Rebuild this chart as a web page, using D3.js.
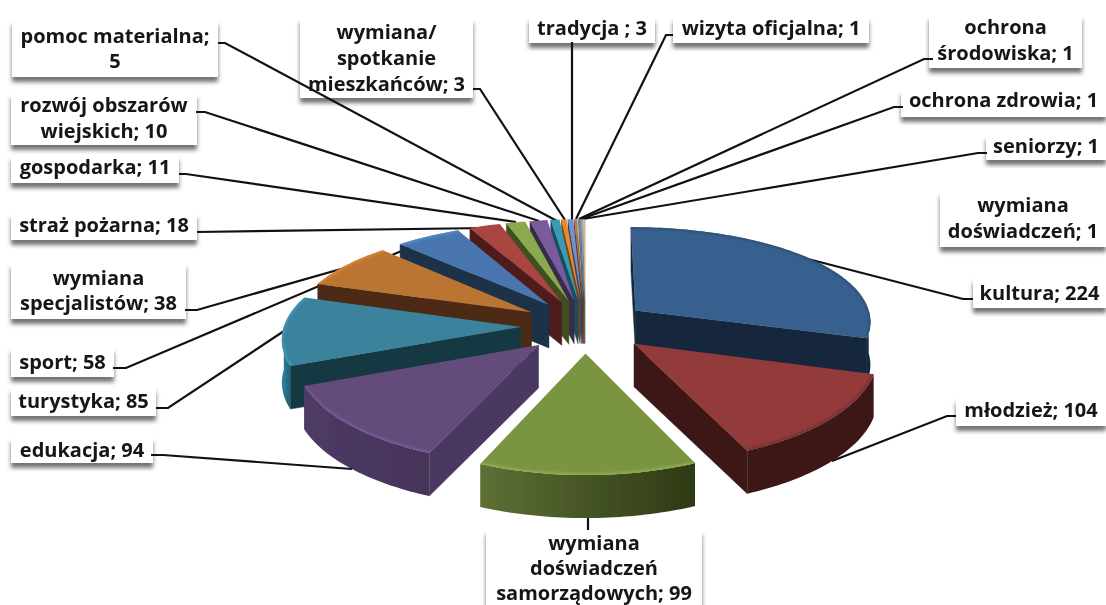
<!DOCTYPE html>
<html>
<head>
<meta charset="utf-8">
<script src="https://cdnjs.cloudflare.com/ajax/libs/d3/7.8.5/d3.min.js"></script>
<style>
    html, body { margin: 0; padding: 0; background: #fff; }
    text { font-family: "Open Sans", sans-serif; font-weight: 700; font-size: 20px; fill: #141414; }
</style>
</head>
<body>
<div id="chart"></div>
<script>
const categories = [
    "kultura", "młodzież", "wymiana doświadczeń samorządowych", "edukacja", "turystyka", "sport",
    "wymiana specjalistów", "straż pożarna", "gospodarka", "rozwój obszarów wiejskich",
    "pomoc materialna", "wymiana/ spotkanie mieszkańców", "tradycja ", "wizyta oficjalna",
    "ochrona środowiska", "ochrona zdrowia", "seniorzy", "wymiana doświadczeń"
];
const values = [224, 104, 99, 94, 85, 58, 38, 18, 11, 10, 5, 3, 3, 1, 1, 1, 1, 1];

const topColors = [
    "#38618f", "#933a3a", "#7a9442", "#634c7c", "#3a829c", "#bb7432",
    "#4876ae", "#aa4442", "#8aaa4e", "#7a5b9c", "#3a9ab4", "#e58a2e",
    "#6f92c8", "#c96a68", "#a3bd6c", "#8d74a8", "#5fb0c8", "#f4b183"
];
const wallColors = [
    "#18283c", "#3e1815", "#3f4d1c", "#4a3860", "#163843", "#4e2c12",
    "#1b3048", "#4f1c1b", "#414f20", "#382a4a", "#17505f", "#7a4512",
    "#2c4670", "#60302f", "#55652f", "#44345a", "#2a6070", "#8a6040"
];
const rimLeft = [
    "#18283c", "#3e1815", "#5d7035", "#4e3b65", "#2f88a4", "#4e2c12",
    "#1b3048", "#4f1c1b", "#414f20", "#382a4a", "#17505f", "#7a4512",
    "#2c4670", "#60302f", "#55652f", "#44345a", "#2a6070", "#8a6040"
];
const rimRight = [
    "#18283c", "#3e1815", "#2e3915", "#463459", "#1f5f73", "#4e2c12",
    "#1b3048", "#4f1c1b", "#414f20", "#382a4a", "#17505f", "#7a4512",
    "#2c4670", "#60302f", "#55652f", "#44345a", "#2a6070", "#8a6040"
];

// Words per line of each label
const labelWraps = [
    [3], [2], [1, 1, 2], [2], [2], [2],
    [1, 2], [3], [2], [2, 2],
    [2, 1], [1, 1, 2], [3], [3],
    [1, 2], [3], [2], [1, 2]
];

// Label boxes: x, y, width, height, first baseline, line step, leader points
const labelLayout = [
    { box: [973, 278, 133, 30], base: 300, step: 0, line: [[973, 299], [963, 299], [808, 259]] },
    { box: [956, 398, 150, 28], base: 417, step: 0, line: [[956, 416], [947, 416], [832, 461]] },
    { box: [486, 530, 216, 75], base: 550, step: 25, line: [[588, 530], [588, 515]] },
    { box: [11, 437, 142, 26], base: 457, step: 0, line: [[151, 455], [163, 455], [352, 469]] },
    { box: [11, 387, 145, 29], base: 408, step: 0, line: [[156, 408], [168, 408], [284, 331]] },
    { box: [11, 347, 103, 30], base: 369, step: 0, line: [[113, 368], [126, 368], [432, 238]] },
    { box: [11, 263, 175, 56], base: 285, step: 25, line: [[185, 310], [197, 310], [348, 267]] },
    { box: [11, 213, 186, 27], base: 232, step: 0, line: [[197, 232], [487, 228]] },
    { box: [11, 155, 168, 28], base: 174, step: 0, line: [[179, 174], [186, 174], [516, 222]] },
    { box: [11, 93, 186, 52], base: 112, step: 26, line: [[196, 112], [205, 112], [539, 221]] },
    { box: [12, 20, 206, 57], base: 43, step: 25, line: [[218, 43], [225, 43], [557, 221]] },
    { box: [300, 18, 173, 80], base: 39, step: 26, line: [[473, 89], [480, 89], [565, 220]] },
    { box: [529, 17, 126, 26], base: 35, step: 0, line: [[572, 42], [572, 220]] },
    { box: [673, 17, 196, 26], base: 35, step: 0, line: [[673, 35], [666, 35], [576, 219]] },
    { box: [929, 15, 153, 53], base: 34, step: 26, line: [[933, 59], [924, 59], [579, 219]] },
    { box: [901, 90, 205, 27], base: 107, step: 0, line: [[903, 107], [894, 107], [581, 219]] },
    { box: [986, 135, 120, 25], base: 153, step: 0, line: [[987, 153], [978, 153], [583, 219]] },
    { box: [940, 192, 166, 55], base: 212, step: 26, line: null }
];

const width = 1106;
const height = 605;

// Pie geometry: radius 1 in pie space, then a perspective squash onto the screen
const explode = 0.27;
const perspectiveX = 0.10;
const perspectiveY = 0.13;
const depth = 43;

const xScale = d3.scaleLinear().domain([-1, 1]).range([585 - 237, 585 + 237]);
const yScale = d3.scaleLinear().domain([-1, 1]).range([326 - 98, 326 + 98]);

function project(u, v) {
    return [xScale(u / (1 - perspectiveX * v)), yScale(v / (1 - perspectiveY * v))];
}

// Point on a slice, angle clockwise from the top
function slicePoint(d, angle, r) {
    const mid = (d.startAngle + d.endAngle) / 2;
    const u = Math.sin(mid) * explode + Math.sin(angle) * r;
    const v = -Math.cos(mid) * explode - Math.cos(angle) * r;
    return project(u, v);
}

function arcPoints(d, a0, a1) {
    const n = Math.max(2, Math.ceil((a1 - a0) / 0.02));
    return d3.range(n + 1).map(function(i) {
        return slicePoint(d, a0 + (a1 - a0) * i / n, 1);
    });
}

function lowered(points) {
    return points.map(function(p) { return [p[0], p[1] + depth]; });
}

const line = d3.line();

const svg = d3.select("#chart")
    .append("svg")
    .attr("width", width)
    .attr("height", height)
    .attr("viewBox", "0 0 " + width + " " + height);

const defs = svg.append("defs");

defs.append("filter").attr("id", "soft")
    .attr("x", "-5%").attr("y", "-5%").attr("width", "110%").attr("height", "110%")
    .append("feGaussianBlur").attr("stdDeviation", 0.6);

defs.append("filter").attr("id", "bevel")
    .attr("x", "-10%").attr("y", "-10%").attr("width", "120%").attr("height", "120%")
    .append("feGaussianBlur").attr("stdDeviation", 1.3);

defs.append("filter").attr("id", "textSoft")
    .append("feGaussianBlur").attr("stdDeviation", 0.35);

const shadow = defs.append("filter").attr("id", "boxShadow")
    .attr("x", "-10%").attr("y", "-10%").attr("width", "120%").attr("height", "140%");
shadow.append("feDropShadow")
    .attr("dx", 0).attr("dy", 5).attr("stdDeviation", 2.2)
    .attr("flood-color", "#444").attr("flood-opacity", 0.75);

// Labels go in first: boxes, text, then leaders over them, the pie hides the leader ends
const labelGroup = svg.append("g");

labelLayout.forEach(function(l) {
    labelGroup.append("rect")
        .attr("x", l.box[0]).attr("y", l.box[1])
        .attr("width", l.box[2]).attr("height", l.box[3])
        .attr("fill", "#fff")
        .attr("filter", "url(#boxShadow)");
});

const textGroup = svg.append("g").attr("filter", "url(#textSoft)");

labelLayout.forEach(function(l, i) {
    const words = (categories[i] + "; " + values[i]).split(" ");
    let pos = 0;
    labelWraps[i].forEach(function(count, row) {
        textGroup.append("text")
            .attr("x", l.box[0] + l.box[2] / 2)
            .attr("y", l.base + row * l.step)
            .attr("text-anchor", "middle")
            .text(words.slice(pos, pos + count).join(" "));
        pos += count;
    });
});

svg.append("g").selectAll("path")
    .data(labelLayout.filter(function(l) { return l.line; }))
    .enter()
    .append("path")
    .attr("d", function(l) { return line(l.line); })
    .attr("fill", "none")
    .attr("stroke", "#111")
    .attr("stroke-width", 2.2);

const slices = d3.pie().sort(null).value(function(d) { return d; })(values);

// Back slices first so the nearer ones paint over them
const drawOrder = slices.slice().sort(function(a, b) {
    const ma = (a.startAngle + a.endAngle) / 2;
    const mb = (b.startAngle + b.endAngle) / 2;
    return -Math.cos(ma) + Math.cos(mb);
});

const pieGroup = svg.append("g").attr("filter", "url(#soft)");

drawOrder.forEach(function(d) {
    const i = d.index;
    const g = pieGroup.append("g");
    const mid = (d.startAngle + d.endAngle) / 2;
    const apex = slicePoint(d, mid, 0);
    const inner = slicePoint(d, mid, 0.7);

    // Radial walls, only the sides that face the viewer
    [d.startAngle, d.endAngle].forEach(function(angle) {
        const outer = slicePoint(d, angle, 1);
        const ex = outer[0] - apex[0];
        const ey = outer[1] - apex[1];
        const sideInner = ex * (inner[1] - apex[1]) - ey * (inner[0] - apex[0]);
        const sideDown = ex * depth;
        if (sideInner * sideDown < 0) {
            const edge = [apex, outer];
            g.append("path")
                .attr("d", line(edge.concat(lowered(edge).reverse())) + "Z")
                .attr("fill", wallColors[i])
                .attr("stroke", wallColors[i])
                .attr("stroke-width", 0.5);
        }
    });

    // Outer rim on the front half of the pie
    const a0 = Math.max(d.startAngle, Math.PI / 2);
    const a1 = Math.min(d.endAngle, Math.PI * 1.5);
    if (a1 > a0) {
        const rim = arcPoints(d, a0, a1);
        const gradId = "rim" + i;
        const grad = defs.append("linearGradient")
            .attr("id", gradId)
            .attr("gradientUnits", "userSpaceOnUse")
            .attr("x1", d3.min(rim, function(p) { return p[0]; }))
            .attr("x2", d3.max(rim, function(p) { return p[0]; }))
            .attr("y1", 0).attr("y2", 0);
        grad.append("stop").attr("offset", "0%").attr("stop-color", rimLeft[i]);
        grad.append("stop").attr("offset", "100%").attr("stop-color", rimRight[i]);
        g.append("path")
            .attr("d", line(rim.concat(lowered(rim).reverse())) + "Z")
            .attr("fill", "url(#" + gradId + ")");
    }

    // Top face
    const arc = arcPoints(d, d.startAngle, d.endAngle);
    const clipId = "top" + i;
    const facePath = line([apex].concat(arc)) + "Z";
    defs.append("clipPath").attr("id", clipId)
        .append("path").attr("d", facePath);
    g.append("path")
        .attr("d", facePath)
        .attr("fill", topColors[i]);

    // Soft bevel along the outer edge of the bigger slices
    if (values[i] >= 38) {
        const lit = mid > Math.PI * 0.95;
        g.append("g").attr("clip-path", "url(#" + clipId + ")")
            .append("path")
            .attr("d", line(arc))
            .attr("fill", "none")
            .attr("stroke", lit ? d3.color(topColors[i]).brighter(0.5) : d3.color(topColors[i]).darker(0.7))
            .attr("stroke-opacity", 0.8)
            .attr("stroke-width", 4)
            .attr("filter", "url(#bevel)");
    }
});
</script>
</body>
</html>
